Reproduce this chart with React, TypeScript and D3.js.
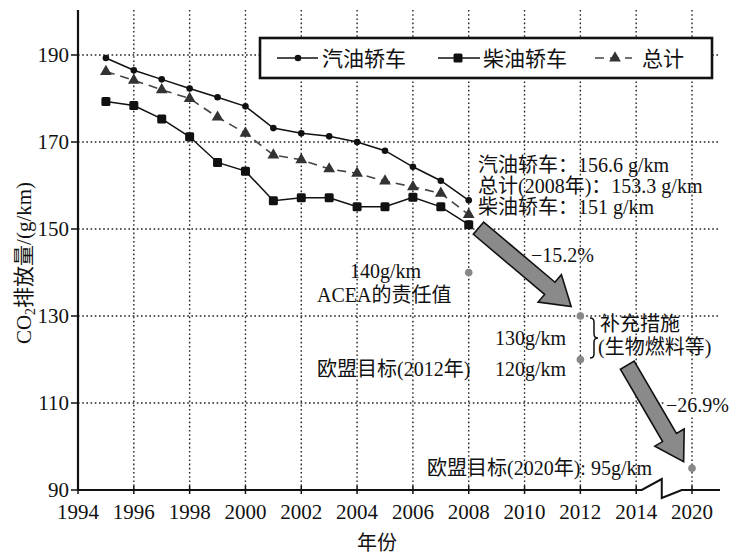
import React from "react";
import * as d3 from "d3";

const years = [1995, 1996, 1997, 1998, 1999, 2000, 2001, 2002, 2003, 2004, 2005, 2006, 2007, 2008];
const petrol = [189.3, 186.5, 184.4, 182.3, 180.3, 178.2, 173.2, 172.0, 171.3, 170.0, 168.0, 164.3, 161.1, 156.6];
const diesel = [179.3, 178.4, 175.3, 171.2, 165.3, 163.3, 156.5, 157.2, 157.2, 155.1, 155.1, 157.3, 155.1, 151.0];
const total = [186.2, 184.2, 182.0, 180.0, 175.7, 172.0, 167.0, 165.9, 163.8, 162.8, 161.0, 159.7, 158.2, 153.3];

// targets: [display-year, value]
const targetYears = [2008, 2012, 2012, 2016];
const targetValues = [140, 130, 120, 95];

const xTickValues = [1994, 1996, 1998, 2000, 2002, 2004, 2006, 2008, 2010, 2012, 2014, 2016];
const xTickLabels = ["1994", "1996", "1998", "2000", "2002", "2004", "2006", "2008", "2010", "2012", "2014", "2020"];
const yTickValues = [90, 110, 130, 150, 170, 190];

const legendLabels = ["汽油轿车", "柴油轿车", "总计"];

const FONT = "'Liberation Serif', 'Times New Roman', 'DejaVu Serif', 'Noto Sans CJK SC', serif";

const x = d3.scaleLinear().domain([1994, 2016]).range([78, 692]);
const y = d3.scaleLinear().domain([90, 190]).range([490, 55]);

function arrowPath(x0: number, y0: number, x1: number, y1: number, sw: number, hw: number, hl: number) {
  const dx = x1 - x0, dy = y1 - y0;
  const L = Math.hypot(dx, dy);
  const ux = dx / L, uy = dy / L;
  const nx = -uy, ny = ux;
  const bx = x1 - ux * hl, by = y1 - uy * hl;
  const pts = [
    [x0 + nx * sw, y0 + ny * sw],
    [bx + nx * sw, by + ny * sw],
    [bx + nx * hw, by + ny * hw],
    [x1, y1],
    [bx - nx * hw, by - ny * hw],
    [bx - nx * sw, by - ny * sw],
    [x0 - nx * sw, y0 - ny * sw],
  ];
  return "M" + pts.map((p) => p.join(",")).join("L") + "Z";
}

function Triangle({ cx, cy, s, fill }: { cx: number; cy: number; s: number; fill: string }) {
  const p = d3.symbol().type(d3.symbolTriangle).size(s)();
  return <path d={p as string} transform={`translate(${cx},${cy})`} fill={fill} />;
}

export default function App() {
  const line = d3.line<number>().x((_, i) => x(years[i])).y((d) => y(d));
  const gridColor = "#222";
  const dash = "1.6,2.6";
  const axisRight = 720;
  const top = 10;

  const a1 = arrowPath(x(2008.35), y(150.2), x(2011.67), y(132.2), 8, 18, 28);
  const a2 = arrowPath(x(2013.68), y(118.7), x(2015.7), y(96.5), 8, 17, 28);

  const zx0 = x(2014.2);
  return (
    <svg width={736} height={555} style={{ position: "absolute", left: 0, top: 0, background: "#fff", fontFamily: FONT }}>
      <rect width={736} height={555} fill="#fff" />
      {/* grid */}
      {xTickValues.slice(1).map((v) => (
        <line key={"gx" + v} x1={x(v)} x2={x(v)} y1={top} y2={490} stroke={gridColor} strokeWidth={1.4} strokeDasharray={dash} />
      ))}
      {yTickValues.slice(1).map((v) => (
        <line key={"gy" + v} x1={78} x2={axisRight} y1={y(v)} y2={y(v)} stroke={gridColor} strokeWidth={1.4} strokeDasharray={dash} />
      ))}
      <rect x={664} y={396} width={60} height={20} fill="#fff" />
      {/* axes */}
      <line x1={78} x2={78} y1={top} y2={490} stroke="#111" strokeWidth={2.2} />
      <path
        d={`M78,490 L${zx0},490 L${zx0 + 20},479 L${zx0 + 20},498 L${zx0 + 40},490 L${axisRight},490`}
        fill="none"
        stroke="#111"
        strokeWidth={2}
      />
      {yTickValues.map((v) => (
        <g key={"yt" + v}>
          <line x1={71} x2={78} y1={y(v)} y2={y(v)} stroke="#111" strokeWidth={1.5} />
          <text x={69} y={y(v)} dy="0.35em" textAnchor="end" fontSize={21} fill="#111">
            {v}
          </text>
        </g>
      ))}
      {xTickValues.map((v, i) => (
        <g key={"xt" + v}>
          <line x1={x(v)} x2={x(v)} y1={486} y2={494} stroke="#111" strokeWidth={1.5} />
          <text x={x(v)} y={519} textAnchor="middle" fontSize={21} fill="#111">
            {xTickLabels[i]}
          </text>
        </g>
      ))}
      <text x={377} y={550} textAnchor="middle" fontSize={20} fill="#111">年份</text>
      <text transform="translate(31,263) rotate(-90)" textAnchor="middle" fontSize={21} fill="#111">
        CO<tspan fontSize={14} dy={4}>2</tspan>
        <tspan dy={-4}>排放量/(g/km)</tspan>
      </text>

      {/* series */}
      <path d={line(total) as string} fill="none" stroke="#444" strokeWidth={1.6} strokeDasharray="9,6" />
      <path d={line(petrol) as string} fill="none" stroke="#111" strokeWidth={1.5} />
      <path d={line(diesel) as string} fill="none" stroke="#111" strokeWidth={1.5} />
      {petrol.map((v, i) => (
        <circle key={"p" + i} cx={x(years[i])} cy={y(v)} r={3.3} fill="#111" />
      ))}
      {diesel.map((v, i) => (
        <rect key={"d" + i} x={x(years[i]) - 4.5} y={y(v) - 4.5} width={9} height={9} rx={1.5} fill="#111" />
      ))}
      {total.map((v, i) => (
        <Triangle key={"t" + i} cx={x(years[i])} cy={y(v)} s={60} fill="#333" />
      ))}

      {/* targets */}
      {targetYears.map((yr, i) => (
        <circle key={"tg" + i} cx={x(yr)} cy={y(targetValues[i])} r={3.8} fill="#888" />
      ))}

      {/* arrows */}
      <path d={a1} fill="#8a8a8a" stroke="#111" strokeWidth={1.6} strokeLinejoin="miter" />
      <path d={a2} fill="#8a8a8a" stroke="#111" strokeWidth={1.6} strokeLinejoin="miter" />

      {/* legend */}
      <rect x={260} y={38} width={452} height={40} fill="#fff" stroke="#111" strokeWidth={2.6} />
      <line x1={277} x2={318} y1={58} y2={58} stroke="#111" strokeWidth={1.5} />
      <circle cx={298} cy={58} r={3.3} fill="#111" />
      <text x={322} y={58} dy="0.36em" fontSize={21} fill="#111">{legendLabels[0]}</text>
      <line x1={438} x2={480} y1={58} y2={58} stroke="#111" strokeWidth={1.5} />
      <rect x={453.5} y={53.5} width={9} height={9} rx={1.5} fill="#111" />
      <text x={483} y={58} dy="0.36em" fontSize={21} fill="#111">{legendLabels[1]}</text>
      <line x1={595} x2={632} y1={58} y2={58} stroke="#444" strokeWidth={1.6} strokeDasharray="9,6" />
      <Triangle cx={615} cy={58} s={60} fill="#333" />
      <text x={642} y={58} dy="0.36em" fontSize={21} fill="#111">{legendLabels[2]}</text>

      {/* annotations */}
      <g fontSize={20} fill="#111">
        <text x={478} y={172}>汽油轿车：156.6 g/km</text>
        <text x={478} y={193}>总计(2008年)：153.3 g/km</text>
        <text x={478} y={214}>柴油轿车：151 g/km</text>
        <text x={531} y={262}>−15.2%</text>
        <text x={350} y={278}>140g/km</text>
        <text x={317} y={302}>ACEA的责任值</text>
        <text x={495} y={345}>130g/km</text>
        <text x={317} y={376}>欧盟目标(2012年)</text>
        <text x={495} y={376}>120g/km</text>
        <text x={600} y={331}>补充措施</text>
        <text x={598} y={354}>(生物燃料等)</text>
        <text x={666} y={412}>−26.9%</text>
        <text x={427} y={475}>欧盟目标(2020年): 95g/km</text>
      </g>
      <path
        d="M590,318 Q594,318 594,322 L594,334 Q594,338 598,338 Q594,338 594,342 L594,354 Q594,358 590,358"
        fill="none"
        stroke="#111"
        strokeWidth={1.5}
      />
    </svg>
  );
}
